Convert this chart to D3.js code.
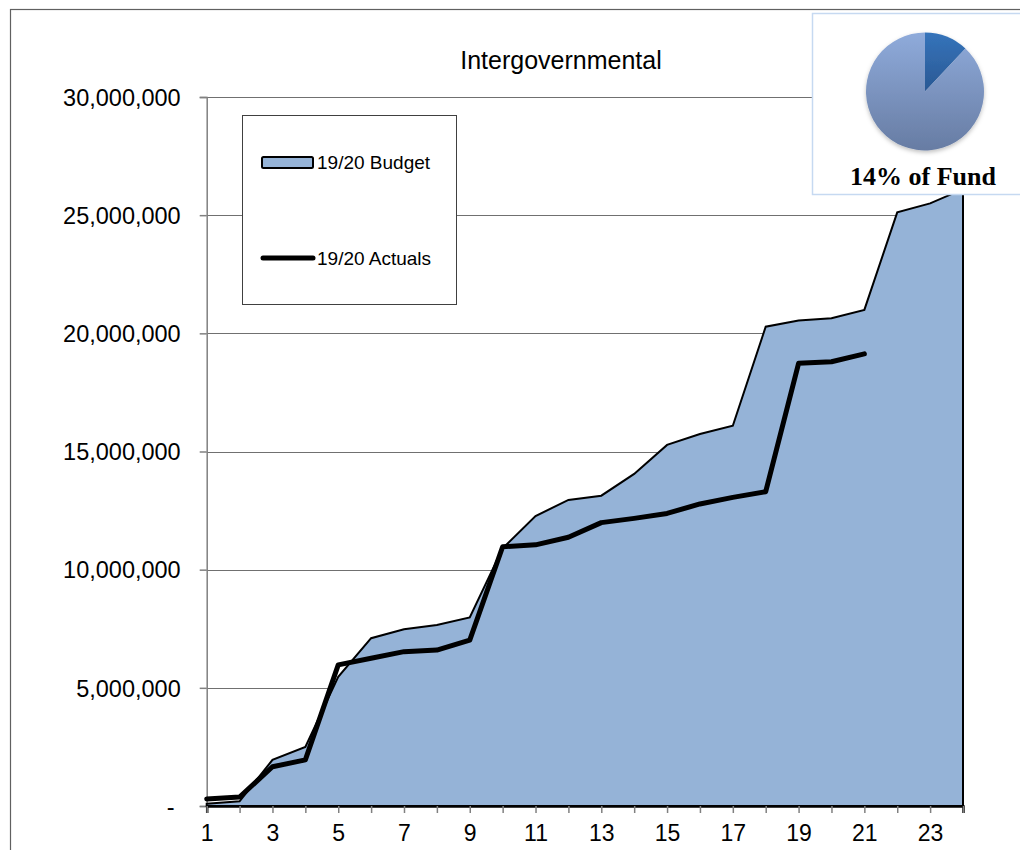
<!DOCTYPE html>
<html>
<head>
<meta charset="utf-8">
<script src="https://cdn.jsdelivr.net/npm/d3@7/dist/d3.min.js"></script>
<style>
  body { margin: 0; background: #fff; }
  text { font-family: "Liberation Sans", Arial, sans-serif; fill: #000; }
</style>
</head>
<body>
<svg id="chart" width="1020" height="850"></svg>
<script>
// data
const periods = [1, 2, 3, 4, 5, 6, 7, 8, 9, 10, 11, 12, 13, 14, 15, 16, 17, 18, 19, 20, 21, 22, 23, 24];
const budget = [100000, 200000, 1950000, 2500000, 5470000, 7100000, 7480000, 7660000, 7980000, 10900000,
  12270000, 12950000, 13130000, 14050000, 15280000, 15740000, 16090000, 20280000, 20540000, 20640000,
  20990000, 25120000, 25500000, 26100000];
const actuals = [300000, 380000, 1660000, 1950000, 5970000, 6250000, 6530000, 6600000, 7020000, 10970000,
  11050000, 11370000, 11990000, 12170000, 12380000, 12780000, 13060000, 13300000, 18730000, 18800000,
  19130000];
const yTicks = [0, 5000000, 10000000, 15000000, 20000000, 25000000, 30000000];
const xLabels = [1, 3, 5, 7, 9, 11, 13, 15, 17, 19, 21, 23];
const seriesNames = ["19/20 Budget", "19/20 Actuals"];
const fundShare = [12, 88];   // slice as drawn in the inset pie
const fundLabel = "14% of Fund";
const title = "Intergovernmental";

const svg = d3.select("#chart");

const x = d3.scalePoint().domain(periods).range([206.7, 963]);
const y = d3.scaleLinear().domain([0, 30000000]).range([806, 97]);

// outer frame
svg.append("rect")
    .attr("x", 10.5).attr("y", 9.5)
    .attr("width", 1100).attr("height", 900)
    .attr("fill", "none").attr("stroke", "#606060").attr("stroke-width", 1.2);

// gridlines
svg.append("g").selectAll("line")
    .data(yTicks.slice(1))
    .join("line")
    .attr("x1", 206.7).attr("x2", 963)
    .attr("y1", d => Math.round(y(d)) + 0.5).attr("y2", d => Math.round(y(d)) + 0.5)
    .attr("stroke", "#707070").attr("stroke-width", 1);

// y axis
const yAxis = svg.append("g")
    .attr("transform", "translate(206.7,0)")
    .call(d3.axisLeft(y).tickValues(yTicks).tickSize(7).tickPadding(19)
        .tickFormat(d => d === 0 ? "-" : d3.format(",")(d)));
yAxis.select(".domain").attr("stroke", "#808080").attr("stroke-width", 1.5);
yAxis.selectAll(".tick line").attr("stroke", "#808080").attr("stroke-width", 1.5);
yAxis.selectAll(".tick text")
    .style("font-size", "23.5px")
    .attr("font-family", null)
    .attr("dy", "0.35em");
yAxis.selectAll(".tick text").filter(d => d === 0).attr("dx", -6);

// budget area
const area = d3.area()
    .x((d, i) => x(periods[i]))
    .y0(y(0))
    .y1(d => y(d));

svg.append("path")
    .datum(budget)
    .attr("d", area)
    .attr("fill", "#95b3d7")
    .attr("stroke", "#000")
    .attr("stroke-width", 2)
    .attr("stroke-linejoin", "miter");

// x axis
const xAxis = svg.append("g")
    .attr("transform", "translate(0,806)")
    .call(d3.axisBottom(x).tickSize(7).tickPadding(12)
        .tickFormat(d => xLabels.includes(d) ? d : ""));
xAxis.select(".domain").attr("stroke", "#000").attr("stroke-width", 2.5);
xAxis.selectAll(".tick line").attr("stroke", "#808080").attr("stroke-width", 1.5);
xAxis.selectAll(".tick text")
    .style("font-size", "23px")
    .attr("font-family", null);

// actuals line
const line = d3.line()
    .x((d, i) => x(periods[i]))
    .y(d => y(d));

svg.append("path")
    .datum(actuals)
    .attr("d", line)
    .attr("fill", "none")
    .attr("stroke", "#000")
    .attr("stroke-width", 5)
    .attr("stroke-linejoin", "round")
    .attr("stroke-linecap", "round");

// title
svg.append("text")
    .attr("x", 561).attr("y", 69)
    .attr("text-anchor", "middle")
    .style("font-size", "25px")
    .text(title);

// legend
const legend = svg.append("g");
legend.append("rect")
    .attr("x", 242.5).attr("y", 115.5)
    .attr("width", 214).attr("height", 189)
    .attr("fill", "#fff").attr("stroke", "#404040").attr("stroke-width", 1);
legend.append("rect")
    .attr("x", 262).attr("y", 157)
    .attr("width", 51).attr("height", 11).attr("rx", 1.5)
    .attr("fill", "#95b3d7").attr("stroke", "#000").attr("stroke-width", 2);
legend.append("line")
    .attr("x1", 263).attr("x2", 313)
    .attr("y1", 258).attr("y2", 258)
    .attr("stroke", "#000").attr("stroke-width", 5).attr("stroke-linecap", "round");
legend.selectAll(".ltxt")
    .data(seriesNames)
    .join("text")
    .attr("x", 317)
    .attr("y", (d, i) => i === 0 ? 169 : 265)
    .style("font-size", "19px")
    .text(d => d);

// inset pie
const defs = svg.append("defs");
const g1 = defs.append("linearGradient").attr("id", "pieMain").attr("x1", 0).attr("y1", 0).attr("x2", 0).attr("y2", 1);
g1.append("stop").attr("offset", "0%").attr("stop-color", "#8fabdb");
g1.append("stop").attr("offset", "100%").attr("stop-color", "#677ca3");
const g2 = defs.append("linearGradient").attr("id", "pieSlice").attr("x1", 0).attr("y1", 0).attr("x2", 0).attr("y2", 1);
g2.append("stop").attr("offset", "0%").attr("stop-color", "#3574bb");
g2.append("stop").attr("offset", "100%").attr("stop-color", "#2a5893");
const shadow = defs.append("filter").attr("id", "pieShadow")
    .attr("x", "-20%").attr("y", "-20%").attr("width", "140%").attr("height", "140%");
shadow.append("feDropShadow")
    .attr("dx", 0).attr("dy", 2).attr("stdDeviation", 2)
    .attr("flood-color", "#000").attr("flood-opacity", 0.25);

svg.append("rect")
    .attr("x", 812.5).attr("y", 13.5)
    .attr("width", 230).attr("height", 181)
    .attr("fill", "#fff").attr("stroke", "#c6d9f1").attr("stroke-width", 1.5);

const pieG = svg.append("g")
    .attr("transform", "translate(925,91.5)")
    .attr("filter", "url(#pieShadow)");
const arcs = d3.pie().sort(null)(fundShare);
const arc = d3.arc().innerRadius(0).outerRadius(59);
pieG.selectAll("path")
    .data(arcs)
    .join("path")
    .attr("d", arc)
    .attr("fill", (d, i) => i === 0 ? "url(#pieSlice)" : "url(#pieMain)");

svg.append("text")
    .attr("x", 923).attr("y", 185)
    .attr("text-anchor", "middle")
    .style("font-family", "'Liberation Serif', 'Times New Roman', serif")
    .style("font-weight", "bold")
    .style("font-size", "26px")
    .text(fundLabel);
</script>
</body>
</html>
